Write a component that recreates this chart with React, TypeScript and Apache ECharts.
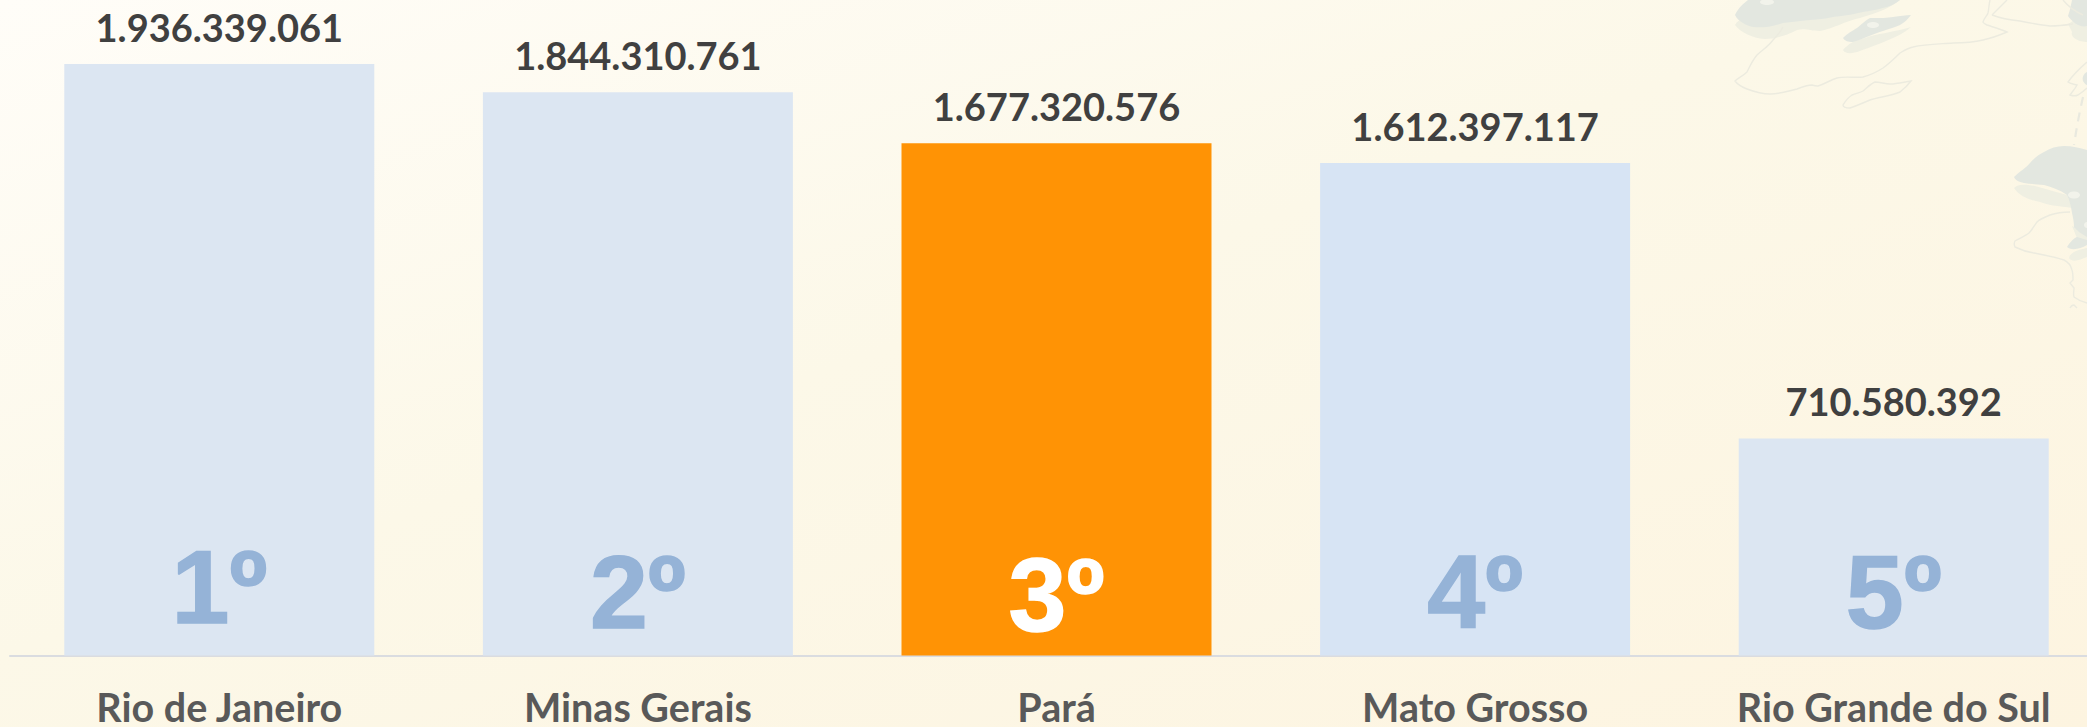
import React, { useEffect, useRef } from "react";
import * as echarts from "echarts";

const categories = ["Rio de Janeiro", "Minas Gerais", "Pará", "Mato Grosso", "Rio Grande do Sul"];
const values = [1936339061, 1844310761, 1677320576, 1612397117, 710580392];
const ranks = ["1º", "2º", "3º", "4º", "5º"];
const barColors = ["#DCE6F2", "#DCE6F2", "#FF9305", "#D7E4F4", "#DCE6F2"];
const rankColors = ["#95B3D7", "#95B3D7", "#FFFFFF", "#95B3D7", "#95B3D7"];
const rankDistances = [17, 12, 9, 12, 12];

const fmt = (v: number) => String(v).replace(/\B(?=(\d{3})+(?!\d))/g, ".");

const LIGHT = [
  "M1735 25 C1738 20 1742 18 1748 20 L1900 0 C1890 8 1877 13 1860 18 C1843 22 1835 28 1820 31 C1810 31 1805 28 1797 30 C1785 36 1775 39 1765 39 C1752 38 1740 32 1735 25 Z",
  "M1843 50 C1848 44 1855 40 1865 38 C1875 34 1895 32 1911 27 C1905 32 1900 35 1893 38 C1880 44 1870 47 1860 51 C1852 54 1845 54 1843 50 Z",
  "M2014 188 C2018 184 2024 184 2035 186 L2067 195 L2072 208 C2060 206 2050 206 2040 202 C2030 200 2020 197 2014 188 Z",
  "M2069 258 C2070 253 2076 250 2087 248 L2087 257 C2080 260 2072 263 2069 258 Z",
  "M2072 226 L2087 232 L2087 245 L2077 238 Z",
  "M2068 24 L2087 12 L2087 42 C2080 42 2070 38 2072 32 Z",
];
const DARK = [
  "M1735 15 C1738 8 1744 3 1748 0 L1900 0 C1895 4 1890 6 1887 7 C1875 10 1870 11 1863 12 C1850 15 1842 16 1833 17 C1825 19 1818 19 1810 20 C1800 21 1792 22 1783 23 C1770 27 1762 28 1753 27 C1745 25 1738 21 1735 15 Z",
  "M1843 38 C1848 33 1852 31 1857 28 C1862 24 1866 20 1870 18 C1880 18 1888 18 1893 17 C1900 16 1906 15 1911 15 C1908 19 1905 22 1900 25 C1890 29 1882 31 1877 33 C1868 36 1860 40 1853 42 C1848 42 1845 41 1843 38 Z",
  "M2014 177 C2020 171 2026 168 2030 163 C2035 157 2040 154 2044 152 C2050 148 2057 146 2064 146 C2072 146 2080 148 2087 150 L2087 237 C2082 234 2077 231 2074 227 C2074 222 2073 218 2072 213 C2071 205 2069 200 2067 195 C2060 190 2052 187 2044 185 C2036 184 2030 184 2024 183 C2019 182 2015 180 2014 177 Z",
  "M2067 247 C2070 242 2074 238 2077 237 L2087 240 L2087 245 C2080 249 2072 251 2067 247 Z",
  "M2072 0 L2087 0 L2087 26 C2080 28 2072 22 2068 16 C2070 10 2071 5 2072 0 Z",
  "M2087 72 C2083 74 2082 78 2083 81 C2084 83 2086 85 2087 85 Z",
];
const OUTLINES = [
  "M1783 27 C1780 33 1777 36 1773 40 C1768 47 1762 50 1757 55 C1752 61 1750 66 1747 72 C1743 76 1738 78 1735 81 C1738 85 1742 87 1747 89 C1755 92 1762 94 1770 94 C1780 94 1788 91 1797 89 C1802 87 1808 85 1812 85 C1815 86 1816 86 1818 86 C1825 84 1830 80 1837 78 C1845 76 1855 78 1863 77 C1870 75 1877 72 1883 68 C1890 63 1895 58 1900 53 C1905 50 1908 48 1913 47 C1925 44 1940 44 1953 43 C1965 43 1975 42 1983 40 C1992 38 2000 35 2007 32 C2000 29 1993 27 1987 25 C1985 24 1983 23 1983 22 C1984 18 1987 16 1988 13 C1989 8 1989 4 1990 0",
  "M1992 15 L2007 0",
  "M1992 15 C2000 18 2010 20 2020 21 C2030 23 2040 25 2050 26 C2058 26 2066 25 2073 24",
  "M2063 0 C2067 5 2072 10 2083 15",
  "M1843 105 C1846 100 1849 97 1852 95 C1856 93 1860 93 1863 91 C1867 88 1870 84 1875 82 C1880 82 1885 84 1890 84 C1897 84 1904 82 1911 81 C1908 85 1904 89 1900 92 C1890 96 1880 97 1870 100 C1863 103 1856 106 1850 108 C1846 108 1843 107 1843 105 Z",
  "M2087 62 C2080 68 2073 75 2068 82 C2070 84 2074 84 2077 85 C2075 89 2072 92 2070 95 C2073 96 2076 96 2078 95 C2081 93 2084 91 2087 88",
  "M2070 212 C2063 212 2056 213 2050 215 C2045 217 2040 219 2037 222 C2034 226 2032 230 2029 233 C2025 236 2020 238 2015 241 C2014 243 2014 245 2015 247 C2021 250 2027 252 2034 253 C2044 255 2055 257 2064 260 C2068 262 2071 266 2072 270 C2073 273 2073 277 2073 280 L2070 283 L2074 288 C2074 291 2073 294 2074 297 C2078 300 2082 302 2087 303",
  "M2070 308 C2071 306 2072 305 2074 305 L2077 308",
];
const DASH = ["M2083 97 C2080 110 2077 125 2074 145"];
const DOTS = [[1767, 2, 7, 3], [1873, 25, 6, 3], [2074, 195, 6, 3.5], [2087, 225, 3, 3]];

export default function App() {
  const ref = useRef<HTMLDivElement>(null);
  useEffect(() => {
    document.body.style.margin = "0";
    const chart = echarts.init(ref.current!, undefined, { renderer: "svg" });
    const deco: any[] = [];
    const add = (list: string[], prefix: string, style: any) =>
      list.forEach((d, i) => {
        const name = prefix + i;
        echarts.graphic.registerShape(name, echarts.graphic.extendPath(d, {}));
        deco.push({ type: name, x: 0, y: 0, style, silent: true });
      });
    add(LIGHT, "light", { fill: "#EFEFE2" });
    add(DARK, "dark", { fill: "#E3E7E0" });
    add(OUTLINES, "outline", { fill: "none", stroke: "#ECEBDF", lineWidth: 1.4 });
    add(DASH, "dash", { fill: "none", stroke: "#E9E9DF", lineWidth: 2.2, lineDash: [9, 7] });
    DOTS.forEach(([cx, cy, rx, ry]) =>
      deco.push({ type: "ellipse", shape: { cx, cy, rx, ry }, style: { fill: "#F2F3EB" }, silent: true })
    );
    chart.setOption({
      animation: false,
      backgroundColor: {
        type: "linear", x: 0, y: 0, x2: 1, y2: 1,
        colorStops: [
          { offset: 0, color: "#FFFDF8" },
          { offset: 0.45, color: "#FCF8E8" },
          { offset: 1, color: "#FDF4E0" },
        ],
      },
      graphic: deco,
      grid: { left: 10, top: 0, width: 2093, height: 655.5, containLabel: false, outerBoundsMode: "none" },
      xAxis: {
        type: "category",
        data: categories,
        axisTick: { show: false },
        axisLine: { lineStyle: { color: "#DADCE0", width: 2 } },
        axisLabel: {
          interval: 0, margin: 37, color: "#595959", lineHeight: 28,
          fontFamily: "Lato", fontWeight: "bold", fontSize: 39.5,
        },
      },
      yAxis: { type: "value", min: 0, max: 2146000000, show: false, splitLine: { show: false } },
      series: [
        {
          type: "bar",
          barWidth: 310,
          barGap: "-100%",
          data: values.map((v, i) => ({ value: v, itemStyle: { color: barColors[i] } })),
          label: {
            show: true, position: "top", distance: 18,
            formatter: (p: any) => fmt(p.value),
            color: "#404040", fontFamily: "Lato", fontWeight: "bold", fontSize: 38,
          },
        },
        {
          type: "bar",
          barWidth: 310,
          barGap: "-100%",
          silent: true,
          data: values.map((v, i) => ({
            value: v,
            itemStyle: { color: "rgba(0,0,0,0)" },
            label: {
              color: rankColors[i],
              textBorderColor: rankColors[i],
              textBorderWidth: 1.5,
              distance: rankDistances[i],
            },
          })),
          label: {
            show: true, position: "insideBottom",
            formatter: (p: any) => ranks[p.dataIndex],
            fontFamily: "Liberation Sans", fontWeight: "bold", fontSize: 104,
          },
        },
      ],
    });
    return () => chart.dispose();
  }, []);
  return (
    <div style={{ position: "absolute", left: 0, top: 0, width: 2087, height: 727, overflow: "hidden" }}>
      <div ref={ref} style={{ width: 2110, height: 727 }} />
    </div>
  );
}
